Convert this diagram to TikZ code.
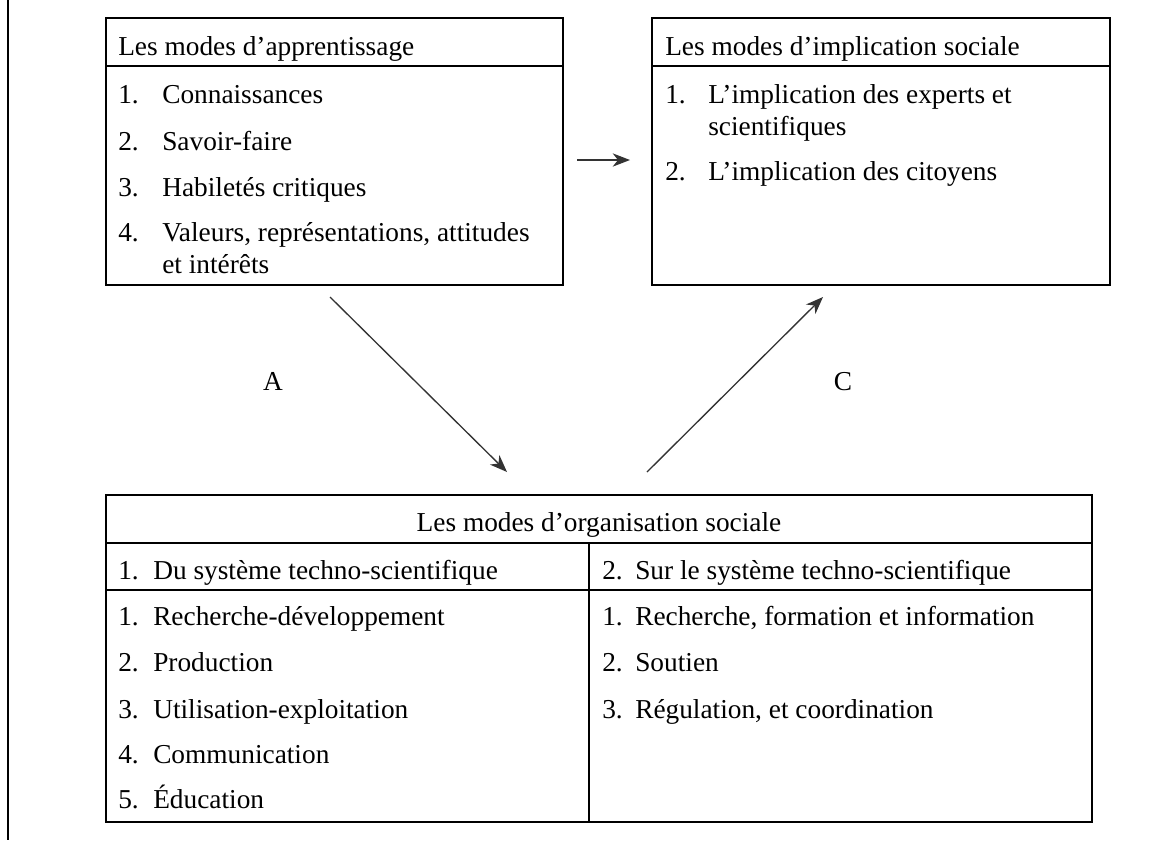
\documentclass[tikz,border=0pt]{standalone}
\usepackage{fontspec}
\setmainfont{Liberation Serif}
\usetikzlibrary{arrows.meta}

\begin{document}
\begin{tikzpicture}
    [
        x=0.75pt, y=-0.75pt,
        txt/.style={anchor=west, inner sep=0pt, text height=0.7em, text depth=0.25em, font=\fontsize{20.5}{24}\selectfont},
        frame/.style={draw, line width=1.2pt},
        link/.style={draw=black!80, line width=1pt, -{Stealth[length=13pt, width=10pt, inset=4pt]}},
    ]
    \useasboundingbox (0,0) rectangle (1160,840);
    \draw [line width=1.5pt] (7.5,0) -- (7.5,840);

    % modes d'apprentissage
    \draw [frame] (106,18) rectangle (563,285);
    \draw [frame] (106,66) -- (563,66);
    \node (appr) at (118,52) [txt] {Les modes d’apprentissage};
    \node (ap1n) at (118,100) [txt] {1.};
    \node (ap1) at (162,100) [txt] {Connaissances};
    \node (ap2n) at (118,147) [txt] {2.};
    \node (ap2) at (162,147) [txt] {Savoir-faire};
    \node (ap3n) at (118,193) [txt] {3.};
    \node (ap3) at (162,193) [txt] {Habiletés critiques};
    \node (ap4n) at (118,238) [txt] {4.};
    \node (ap4) at (162,238) [txt] {Valeurs, représentations, attitudes};
    \node (ap4b) at (162,270) [txt] {et intérêts};

    % modes d'implication sociale
    \draw [frame] (652,18) rectangle (1110,285);
    \draw [frame] (652,66) -- (1110,66);
    \node (impl) at (665,52) [txt] {Les modes d’implication sociale};
    \node (im1n) at (665,100) [txt] {1.};
    \node (im1) at (708,100) [txt] {L’implication des experts et};
    \node (im1b) at (708,132) [txt] {scientifiques};
    \node (im2n) at (665,177) [txt] {2.};
    \node (im2) at (708,177) [txt] {L’implication des citoyens};

    % modes d'organisation sociale
    \draw [frame] (106,495) rectangle (1092,822);
    \draw [frame] (106,543) -- (1092,543);
    \draw [frame] (106,590) -- (1092,590);
    \draw [frame] (589,543) -- (589,822);
    \node (orga) at (599,528) [txt, anchor=center] {Les modes d’organisation sociale};
    \node (dun) at (118,576) [txt] {1.};
    \node (du) at (153,576) [txt] {Du système techno-scientifique};
    \node (du1n) at (118,622) [txt] {1.};
    \node (du1) at (153,622) [txt] {Recherche-développement};
    \node (du2n) at (118,668) [txt] {2.};
    \node (du2) at (153,668) [txt] {Production};
    \node (du3n) at (118,715) [txt] {3.};
    \node (du3) at (153,715) [txt] {Utilisation-exploitation};
    \node (du4n) at (118,760) [txt] {4.};
    \node (du4) at (153,760) [txt] {Communication};
    \node (du5n) at (118,805) [txt] {5.};
    \node (du5) at (153,805) [txt] {Éducation};
    \node (surn) at (602,576) [txt] {2.};
    \node (sur) at (635,576) [txt] {Sur le système techno-scientifique};
    \node (sur1n) at (602,622) [txt] {1.};
    \node (sur1) at (635,622) [txt] {Recherche, formation et information};
    \node (sur2n) at (602,668) [txt] {2.};
    \node (sur2) at (635,668) [txt] {Soutien};
    \node (sur3n) at (602,715) [txt] {3.};
    \node (sur3) at (635,715) [txt] {Régulation, et coordination};

    % fleches
    \coordinate (h0) at (577,160);
    \coordinate (h1) at (630,160);
    \coordinate (a0) at (330,297);
    \coordinate (a1) at (507,472);
    \coordinate (c0) at (647,472);
    \coordinate (c1) at (823,297);
    \draw [link] (h0) -- (h1);
    \draw [link] (a0) -- (a1);
    \draw [link] (c0) -- (c1);
    \node (la) at (273,387) [txt, anchor=center] {A};
    \node (lc) at (843,387) [txt, anchor=center] {C};
\end{tikzpicture}
\end{document}
